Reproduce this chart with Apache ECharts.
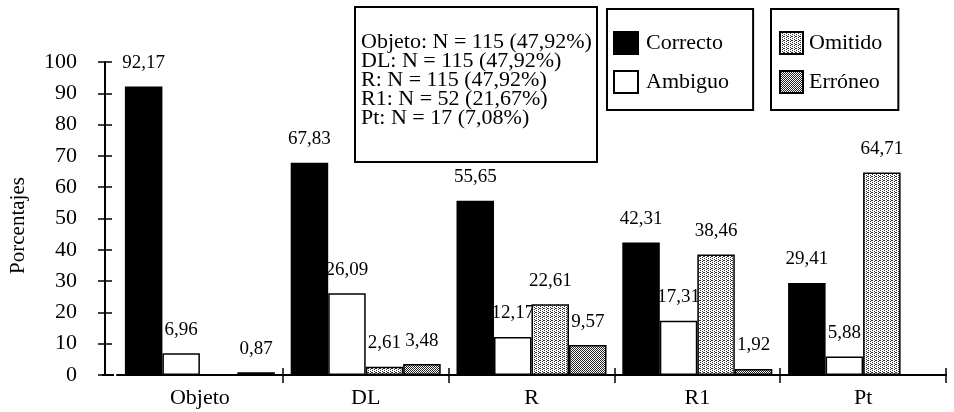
<!DOCTYPE html>
<html><head><meta charset="utf-8">
<script src="https://cdn.jsdelivr.net/npm/echarts@6/dist/echarts.min.js"></script>
<style>html,body{margin:0;padding:0;background:#fff}#c{width:954px;height:412px}</style>
</head><body><div id="c"></div>
<script>
const categories = ['Objeto', 'DL', 'R', 'R1', 'Pt'];
const seriesNames = ['Correcto', 'Ambiguo', 'Omitido', 'Erróneo'];
const correcto = [92.17, 67.83, 55.65, 42.31, 29.41];
const ambiguo  = [6.96, 26.09, 12.17, 17.31, 5.88];
const omitido  = [0, 2.61, 22.61, 38.46, 64.71];
const erroneo  = [0.87, 3.48, 9.57, 1.92, 0];
const notes = ['Objeto: N = 115 (47,92%)', 'DL: N = 115 (47,92%)', 'R: N = 115 (47,92%)', 'R1: N = 52 (21,67%)', 'Pt: N = 17 (7,08%)'];
const Y_MIN = 0, Y_MAX = 100, Y_STEP = 10;

const FONT = 'Liberation Serif';
const GRID_LEFT = 114, GRID_RIGHT = 8, GRID_TOP = 62, GRID_BOTTOM = 37, Y_OFFSET = 12;

function makePattern(size, dots, fg) {
  const c = document.createElement('canvas');
  c.width = c.height = size;
  const ctx = c.getContext('2d');
  ctx.fillStyle = '#fff'; ctx.fillRect(0, 0, size, size);
  ctx.fillStyle = fg;
  dots.forEach(([x, y]) => ctx.fillRect(x, y, 1, 1));
  return { image: c, repeat: 'repeat' };
}
const omitPattern = makePattern(4, [[0,0],[2,1],[0,2],[2,3],[3,0]], '#333');
const errPattern = makePattern(2, [[0,0],[1,1]], '#222');

const fills = ['#000', '#fff', omitPattern, errPattern];
const values = [correcto, ambiguo, omitido, erroneo];

const chart = echarts.init(document.getElementById('c'), null, { renderer: 'canvas' });

const labelFmt = p => p.value ? p.value.toFixed(2).replace('.', ',') : '';

const series = seriesNames.map((n, i) => ({
  name: n,
  type: 'bar',
  data: values[i],
  barWidth: 37.5,
  barGap: '0%',
  itemStyle: { color: fills[i], borderColor: '#000', borderWidth: 1.5 },
  label: { show: true, position: 'top', distance: 14, formatter: labelFmt,
           fontFamily: FONT, fontSize: 19, color: '#000' },
  emphasis: { disabled: true },
  animation: false
}));

const axisText = { fontFamily: FONT, fontSize: 22, color: '#000' };

chart.setOption({
  animation: false,
  grid: { left: GRID_LEFT, right: GRID_RIGHT, top: GRID_TOP, bottom: GRID_BOTTOM },
  title: {
    text: notes.join('\n'),
    left: 355, top: 8,
    padding: [25, 5, 33, 6],
    borderColor: '#000', borderWidth: 2,
    textStyle: { fontFamily: FONT, fontSize: 22, fontWeight: 'normal', lineHeight: 19, color: '#000' }
  },
  legend: [
    { data: seriesNames.slice(0, 2), orient: 'vertical', left: 607, top: 9,
      padding: [22, 24, 16, 6], itemWidth: 24, itemHeight: 22, itemGap: 15,
      borderColor: '#000', borderWidth: 2, icon: 'rect',
      textStyle: { fontFamily: FONT, fontSize: 22, color: '#000', width: 82, padding: [0, 0, 0, 3] } },
    { data: seriesNames.slice(2, 4), orient: 'vertical', left: 771, top: 9,
      padding: [22, 16, 16, 8], itemWidth: 23, itemHeight: 22, itemGap: 15,
      borderColor: '#000', borderWidth: 2, icon: 'rect',
      textStyle: { fontFamily: FONT, fontSize: 22, color: '#000', width: 73, padding: [0, 0, 0, 1] } }
  ],
  xAxis: [
    { type: 'category', data: categories, position: 'bottom',
      axisLine: { lineStyle: { color: '#000', width: 2 } },
      axisTick: { show: true, length: 8, lineStyle: { color: '#000', width: 1.5 },
                  interval: (idx) => idx !== 0 },
      axisLabel: Object.assign({ margin: 12 }, axisText),
      splitLine: { show: false } },
    { type: 'category', data: categories, position: 'bottom',
      axisLine: { show: false },
      axisTick: { show: true, inside: true, length: 7, lineStyle: { color: '#000', width: 1.5 },
                  interval: (idx) => idx !== 0 },
      axisLabel: { show: false }, splitLine: { show: false } }
  ],
  yAxis: [
    { type: 'value', min: Y_MIN, max: Y_MAX, interval: Y_STEP, position: 'left', offset: Y_OFFSET,
      name: 'Porcentajes', nameLocation: 'middle', nameRotate: 90, nameGap: 76,
      nameTextStyle: { fontFamily: FONT, fontSize: 21, color: '#000', padding: [0, 14, 0, 0] },
      axisLine: { show: true, lineStyle: { color: '#000', width: 2 } },
      axisTick: { show: true, length: 7, lineStyle: { color: '#000', width: 1.5 } },
      axisLabel: Object.assign({ margin: 28 }, axisText),
      splitLine: { show: false } },
    { type: 'value', min: Y_MIN, max: Y_MAX, interval: Y_STEP, position: 'left', offset: Y_OFFSET,
      axisLine: { show: false },
      axisTick: { show: true, inside: true, length: 7, lineStyle: { color: '#000', width: 1.5 } },
      axisLabel: { show: false }, splitLine: { show: false } }
  ],
  graphic: [
    { type: 'line', silent: true,
      shape: { x1: GRID_LEFT - Y_OFFSET, y1: 412 - GRID_BOTTOM, x2: GRID_LEFT, y2: 412 - GRID_BOTTOM },
      style: { stroke: '#000', lineWidth: 2 } }
  ],
  series: series
});
</script></body></html>
